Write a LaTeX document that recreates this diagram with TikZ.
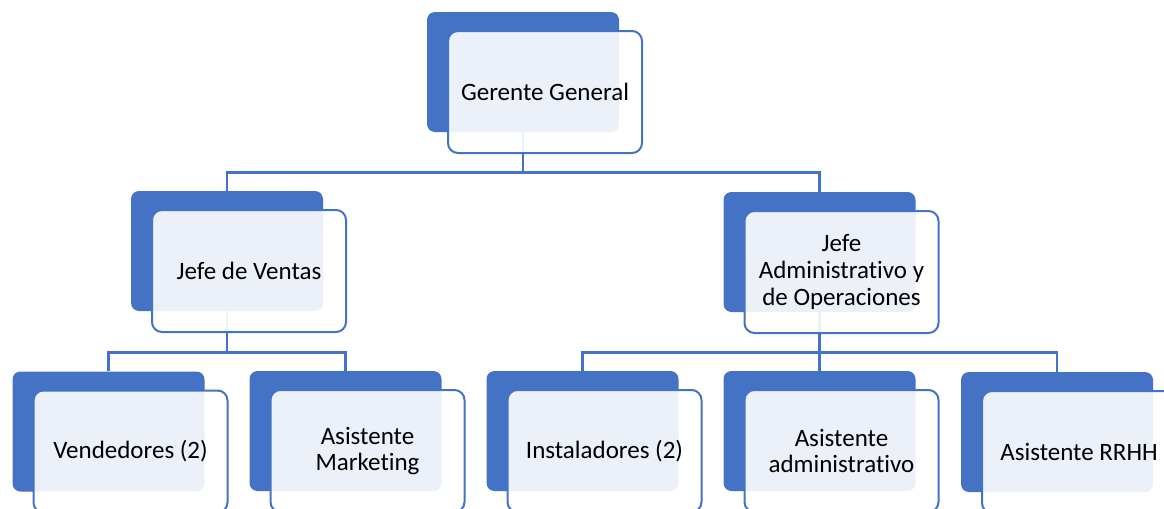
\documentclass[tikz,border=0pt]{standalone}
\usepackage{fontspec}
\setmainfont{Carlito}[Ligatures={NoCommon}]
\definecolor{orgblue}{HTML}{4472C4}
\tikzset{
  back/.style={fill=orgblue, rounded corners=4pt, inner sep=0pt,
    minimum width=96pt, minimum height=60pt},
  front/.style={draw=orgblue, line width=1pt, fill=white, fill opacity=.9,
    text opacity=1, rounded corners=5pt, inner sep=2pt, align=center,
    minimum width=97pt, minimum height=61pt,
    font=\fontsize{12.5}{13.4}\selectfont},
  link/.style={draw=orgblue, line width=1.1pt}
}
\begin{document}
\begin{tikzpicture}[x=.5pt, y=-.5pt]
        \clip (0,0) rectangle (1164,509);
        \fill[white] (0,0) rectangle (1164,509);
        % dark boxes behind
        \node[back] (gg) at (523,72) {};
        \node[back] (jv) at (227,251) {};
        \node[back] (ja) at (819.5,252) {};
        \node[back] (ve) at (108.5,431.5) {};
        \node[back] (am) at (345.5,431) {};
        \node[back] (in) at (582.5,431) {};
        \node[back] (aa) at (819.5,431) {};
        \node[back] (rr) at (1057,432) {};
        % connectors
        \draw[link] (gg.south) -- ++(0,40) -| (jv.north);
        \draw[link] (gg.south) -- ++(0,40) -| (ja.north);
        \draw[link] (jv.south) -- ++(0,41) -| (ve.north);
        \draw[link] (jv.south) -- ++(0,41) -| (am.north);
        \draw[link] (ja.south) -- ++(0,40) -| (in.north);
        \draw[link] (ja.south) -- ++(0,40) -| (aa.north);
        \draw[link] (ja.south) -- ++(0,40) -| (rr.north);
        % front boxes with the text
        \node[front] (ggt) at ([shift={(22,20)}]gg) {Gerente General};
        \node[front] (jvt) at ([shift={(22,20)}]jv) {Jefe de Ventas};
        \node[front] (jat) at ([shift={(22,20)}]ja) {Jefe\\Administrativo y\\de Operaciones};
        \node[front] (vet) at ([shift={(22,20)}]ve) {Vendedores (2)};
        \node[front] (amt) at ([shift={(22,20)}]am) {Asistente\\Marketing};
        \node[front] (int) at ([shift={(22,20)}]in) {Instaladores (2)};
        \node[front] (aat) at ([shift={(22,20)}]aa) {Asistente\\administrativo};
        \node[front] (rrt) at ([shift={(22,20)}]rr) {Asistente RRHH};
\end{tikzpicture}
\end{document}
